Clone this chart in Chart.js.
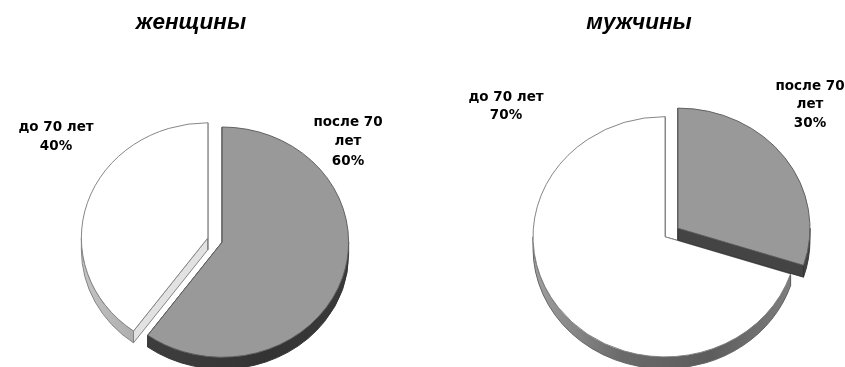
<!DOCTYPE html>
<html>
<head>
<meta charset="utf-8">
<title>до и после 70 лет</title>
<script src="https://cdn.jsdelivr.net/npm/chart.js@4"></script>
<style>
    html, body { margin: 0; padding: 0; background: #fff; overflow: hidden; }
    canvas { position: absolute; top: 0; }
    #womenChart { left: 0; }
    #menChart { left: 430px; }
</style>
</head>
<body>
<canvas id="womenChart" width="430" height="367"></canvas>
<canvas id="menChart" width="415" height="367"></canvas>
<script>
"use strict";

// shares of each age group, in percent
const categories = ['до 70 лет', 'после 70 лет'];
const womenValues = [40, 60];
const menValues = [70, 30];

// wrapped label lines, without the percent line
const categoryLines = [['до 70 лет'], ['после 70', 'лет']];

const womenTitle = 'женщины';
const menTitle = 'мужчины';

const sliceColors = ['#ffffff', '#999999'];
const sliceBorders = ['#808080', '#5c5c5c'];

const FONT_TITLE = 'italic bold 22.5px "Liberation Sans"';
const FONT_LABEL = 'bold 13.5px "DejaVu Sans"';

// pie is tilted: vertical squash and the height of the side wall
const TILT = 0.91;
const DEPTH = 13;

// outer wall between the two angles (only the part facing the viewer)
function drawOuterWall(ctx, x, y, r, start, end, fill, line) {
    for (let k = -2; k <= 2; k++) {
        const from = Math.max(start, k * 2 * Math.PI);
        const to = Math.min(end, k * 2 * Math.PI + Math.PI);
        if (to <= from) continue;
        ctx.beginPath();
        ctx.arc(x, y, r, from, to);
        ctx.arc(x, y + DEPTH, r, to, from, true);
        ctx.closePath();
        ctx.fillStyle = fill;
        ctx.strokeStyle = line;
        ctx.lineWidth = 1;
        ctx.fill();
        ctx.stroke();
    }
}

// wall along one radial edge of a slice
function drawCutWall(ctx, x, y, r, angle, fill, line) {
    const ex = x + Math.cos(angle) * r;
    const ey = y + Math.sin(angle) * r;
    ctx.beginPath();
    ctx.moveTo(x, y);
    ctx.lineTo(ex, ey);
    ctx.lineTo(ex, ey + DEPTH);
    ctx.lineTo(x, y + DEPTH);
    ctx.closePath();
    ctx.fillStyle = fill;
    ctx.strokeStyle = line;
    ctx.lineWidth = 1;
    ctx.fill();
    ctx.stroke();
}

// horizontal gradient for a side wall
function wallGradient(ctx, x, r, stops) {
    const g = ctx.createLinearGradient(x - r, 0, x + r, 0);
    stops.forEach(function (c, i) {
        g.addColorStop(i / (stops.length - 1), c);
    });
    return g;
}

// draws the slices with their walls, one after the other, in data order.
// the explode shift is done here: the arc offset option also changes the radius
const tiltedPie = {
    id: 'tiltedPie',
    beforeDatasetsDraw(chart, args, opts) {
        const ctx = chart.ctx;
        const arcs = chart.getDatasetMeta(0).data;
        const first = arcs[0];

        ctx.save();
        ctx.translate(first.x, first.y);
        ctx.scale(1, TILT);
        ctx.translate(-first.x, -first.y);

        arcs.forEach(function (arc, i) {
            const p = arc.getProps(['x', 'y', 'startAngle', 'endAngle', 'outerRadius']);
            const mid = (p.startAngle + p.endAngle) / 2;
            const dx = Math.cos(mid) * opts.explode;
            const dy = Math.sin(mid) * opts.explode;
            const x = p.x + dx;
            const y = p.y + dy;
            const r = p.outerRadius;

            drawCutWall(ctx, x, y, r, p.startAngle, opts.cutFill[i], opts.wallLine[i]);
            drawCutWall(ctx, x, y, r, p.endAngle, opts.cutFill[i], opts.wallLine[i]);
            drawOuterWall(ctx, x, y, r, p.startAngle, p.endAngle,
                wallGradient(ctx, x, r, opts.wallStops[i]), opts.wallLine[i]);

            ctx.save();
            ctx.translate(dx, dy);
            arc.draw(ctx);
            ctx.restore();
        });
        ctx.restore();
        return false;
    },
    afterDraw(chart, args, opts) {
        const ctx = chart.ctx;
        ctx.save();
        ctx.textAlign = 'center';
        ctx.textBaseline = 'middle';
        ctx.fillStyle = '#000';

        ctx.font = FONT_TITLE;
        ctx.fillText(opts.title, opts.titleAt[0], opts.titleAt[1]);

        ctx.font = FONT_LABEL;
        const values = chart.data.datasets[0].data;
        values.forEach(function (value, i) {
            const lines = categoryLines[i].concat(value + '%');
            lines.forEach(function (line, n) {
                ctx.fillText(line, opts.labelAt[i][0], opts.labelAt[i][1] + n * opts.lineHeight);
            });
        });
        ctx.restore();
    }
};

function makePie(id, values, rotation, radius, padding, pieOptions) {
    return new Chart(document.getElementById(id), {
        type: 'pie',
        data: {
            labels: categories,
            datasets: [{
                data: values,
                backgroundColor: sliceColors,
                borderColor: sliceBorders,
                borderWidth: 1,
                radius: radius
            }]
        },
        options: {
            responsive: false,
            animation: false,
            rotation: rotation,
            layout: { padding: padding },
            plugins: {
                legend: { display: false },
                title: { display: false },
                tooltip: { enabled: false },
                tiltedPie: pieOptions
            }
        },
        plugins: [tiltedPie]
    });
}

makePie('womenChart', womenValues, -144, 126.5, { top: 113 }, {
    title: womenTitle,
    titleAt: [191, 23],
    labelAt: [[56, 127], [348, 122]],
    lineHeight: 19.5,
    explode: 7.5,
    cutFill: ['#e2e2e2', '#3a3a3a'],
    wallLine: ['#808080', '#333333'],
    wallStops: [['#c4c4c4', '#a0a0a0', '#808080', '#707070'], ['#3c3c3c', '#3c3c3c', '#333333', '#3a3a3a']]
});

makePie('menChart', menValues, 108, 132, { top: 98, left: 68 }, {
    title: menTitle,
    titleAt: [209, 23],
    labelAt: [[76, 97], [380, 86]],
    lineHeight: 18.5,
    explode: 8,
    cutFill: ['#777777', '#444444'],
    wallLine: ['#606060', '#333333'],
    wallStops: [['#a0a0a0', '#6a6a6a', '#5c5c5c', '#808080'], ['#444444', '#444444', '#444444', '#444444']]
});
</script>
</body>
</html>
